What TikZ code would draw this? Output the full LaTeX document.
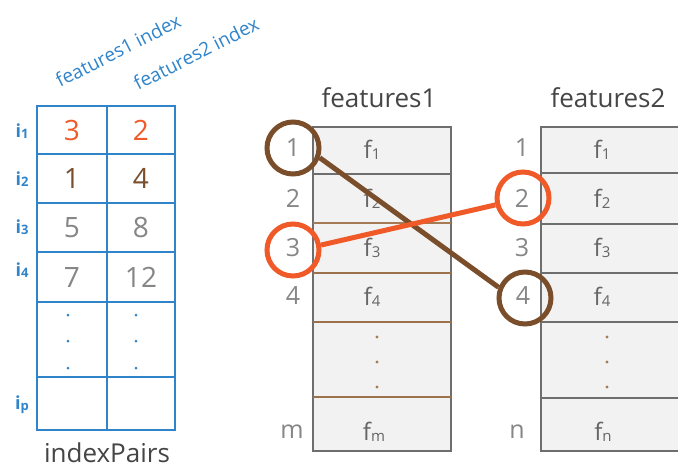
\documentclass[tikz,border=0pt]{standalone}
\usepackage{fontspec}
\setmainfont{Open Sans}
\definecolor{ublue}{HTML}{2F84CA}
\definecolor{uorange}{HTML}{F05A28}
\definecolor{ubrown}{HTML}{7A4E2B}
\definecolor{ugray}{HTML}{868686}
\definecolor{udark}{HTML}{454545}
\definecolor{ufill}{HTML}{F2F2F2}
\definecolor{uborder}{HTML}{6E6E6E}
\definecolor{utan}{HTML}{A47B55}
\definecolor{uflab}{HTML}{666666}
\newcommand{\fsz}[1]{\fontsize{#1}{#1}\selectfont}
\newcommand{\subn}[2]{\raisebox{-0.06em}{\fsz{#1}#2}}
\begin{document}
\begin{tikzpicture}[x=1pt,y=-1pt,
  cell/.style={draw=ublue, line width=1.8pt, inner sep=0pt, text=ugray, font=\fsz{28}},
  rowlab/.style={text=ublue, font=\fsz{18}\bfseries, inner sep=0pt},
  head/.style={text=ublue, font=\fsz{19}, rotate=27, anchor=base west, inner sep=0pt},
  title/.style={text=udark, font=\fsz{26}, anchor=base, inner sep=0pt},
  fbox/.style={draw=uborder, fill=ufill, line width=1.6pt, inner sep=0pt},
  idx/.style={text=ugray, font=\fsz{25}, inner sep=0pt},
  flab/.style={text=uflab, font=\fsz{24}, inner sep=0pt},
  ring/.style={circle, draw=#1, line width=5pt, minimum size=52pt, inner sep=0pt},
  link/.style={draw=#1, line width=5pt},
  tdot/.style={fill=ublue, inner sep=0pt, minimum size=3pt, circle},
  fdot/.style={fill=utan, inner sep=0pt, minimum size=3.2pt, circle}
]
\clip (0,0) rectangle (678,467);
\fill[white] (0,0) rectangle (678,467);

% ---------- headers ----------
\node[head] (h1) at (60,88) {features1 index};
\node[head] (h2) at (138,91) {features2 index};

% ---------- index pairs table ----------
\node[cell, minimum width=70pt, minimum height=48pt, text=uorange] (a1) at (72,130) {3};
\node[cell, minimum width=68pt, minimum height=48pt, text=uorange] (b1) at (141,130) {2};
\node[cell, minimum width=70pt, minimum height=49pt, text=ubrown] (a2) at (72,178.5) {1};
\node[cell, minimum width=68pt, minimum height=49pt, text=ubrown] (b2) at (141,178.5) {4};
\node[cell, minimum width=70pt, minimum height=49pt] (a3) at (72,227.5) {5};
\node[cell, minimum width=68pt, minimum height=49pt] (b3) at (141,227.5) {8};
\node[cell, minimum width=70pt, minimum height=50pt] (a4) at (72,277) {7};
\node[cell, minimum width=68pt, minimum height=50pt] (b4) at (141,277) {12};
\node[cell, minimum width=70pt, minimum height=75pt] (a5) at (72,339.5) {};
\node[cell, minimum width=68pt, minimum height=75pt] (b5) at (141,339.5) {};
\node[cell, minimum width=70pt, minimum height=53pt] (a6) at (72,403.5) {};
\node[cell, minimum width=68pt, minimum height=53pt] (b6) at (141,403.5) {};

\foreach \y [count=\k] in {315,341,368}{
  \node[tdot] (ta\k) at (68,\y) {};
  \node[tdot] (tb\k) at (136,\y) {};
}

\node[rowlab] (i1) at (22,131) {i\subn{13}{1}};
\node[rowlab] (i2) at (22,179) {i\subn{13}{2}};
\node[rowlab] (i3) at (22,227) {i\subn{13}{3}};
\node[rowlab] (i4) at (22,270) {i\subn{13}{4}};
\node[rowlab] (ip) at (22,405) {i\subn{13}{p}};

\node[title, text=udark] (ipairs) at (107,462) {indexPairs};

% ---------- features1 ----------
\node[title] (t1) at (379,107) {features1};
\node[fbox, minimum width=138pt, minimum height=324pt] (F1) at (382,289) {};
\draw[uborder, line width=1.6pt] (313,174) -- (451,174);
\draw[utan, line width=2pt] (313,223) -- (451,223);
\draw[utan!80!ubrown, line width=2pt] (313,273) -- (451,273);
\draw[utan!80!ubrown, line width=2pt] (313,322) -- (451,322);
\draw[utan!80!ubrown, line width=2pt] (313,397) -- (451,397);

\node[flab] (fa1) at (372,150) {f\subn{15}{1}};
\node[flab] (fa2) at (372,199) {f\subn{15}{2}};
\node[flab] (fa3) at (372,248) {f\subn{15}{3}};
\node[flab] (fa4) at (372,297) {f\subn{15}{4}};
\node[flab] (fam) at (374,432) {f\subn{15}{m}};
\foreach \y [count=\k] in {337,362,387}{ \node[fdot] (da\k) at (377,\y) {}; }

\node[idx] (na1) at (293,148) {1};
\node[idx] (na2) at (293,198) {2};
\node[idx] (na3) at (293,248) {3};
\node[idx] (na4) at (293,296) {4};
\node[idx] (nam) at (292,432) {m};

% ---------- features2 ----------
\node[title] (t2) at (608,107) {features2};
\node[fbox, minimum width=160pt, minimum height=324pt] (F2) at (621,289) {};
\draw[uborder, line width=1.6pt] (541,173) -- (690,173);
\draw[uborder, line width=1.6pt] (541,224) -- (690,224);
\draw[uborder, line width=1.6pt] (541,273) -- (690,273);
\draw[uborder, line width=1.6pt] (541,322) -- (690,322);
\draw[uborder, line width=1.6pt] (541,398) -- (690,398);

\node[flab] (fb1) at (602,150) {f\subn{15}{1}};
\node[flab] (fb2) at (602,199) {f\subn{15}{2}};
\node[flab] (fb3) at (602,248) {f\subn{15}{3}};
\node[flab] (fb4) at (602,297) {f\subn{15}{4}};
\node[flab] (fbn) at (603,432) {f\subn{15}{n}};
\foreach \y [count=\k] in {337,362,387}{ \node[fdot] (db\k) at (607,\y) {}; }

\node[idx] (nb1) at (522,148) {1};
\node[idx] (nb2) at (522,198) {2};
\node[idx] (nb3) at (522,248) {3};
\node[idx] (nb4) at (523,296) {4};
\node[idx] (nbn) at (517,432) {n};

% ---------- rings and links ----------
\node[ring=ubrown] (r1) at (293,148) {};
\node[ring=uorange] (r3) at (293,250) {};
\node[ring=uorange] (r2) at (523,198) {};
\node[ring=ubrown] (r4) at (525,298) {};

\draw[link=ubrown] (r1.-20) -- (r4.158);
\draw[link=uorange] (r3.10) -- (r2.194);
\end{tikzpicture}
\end{document}
